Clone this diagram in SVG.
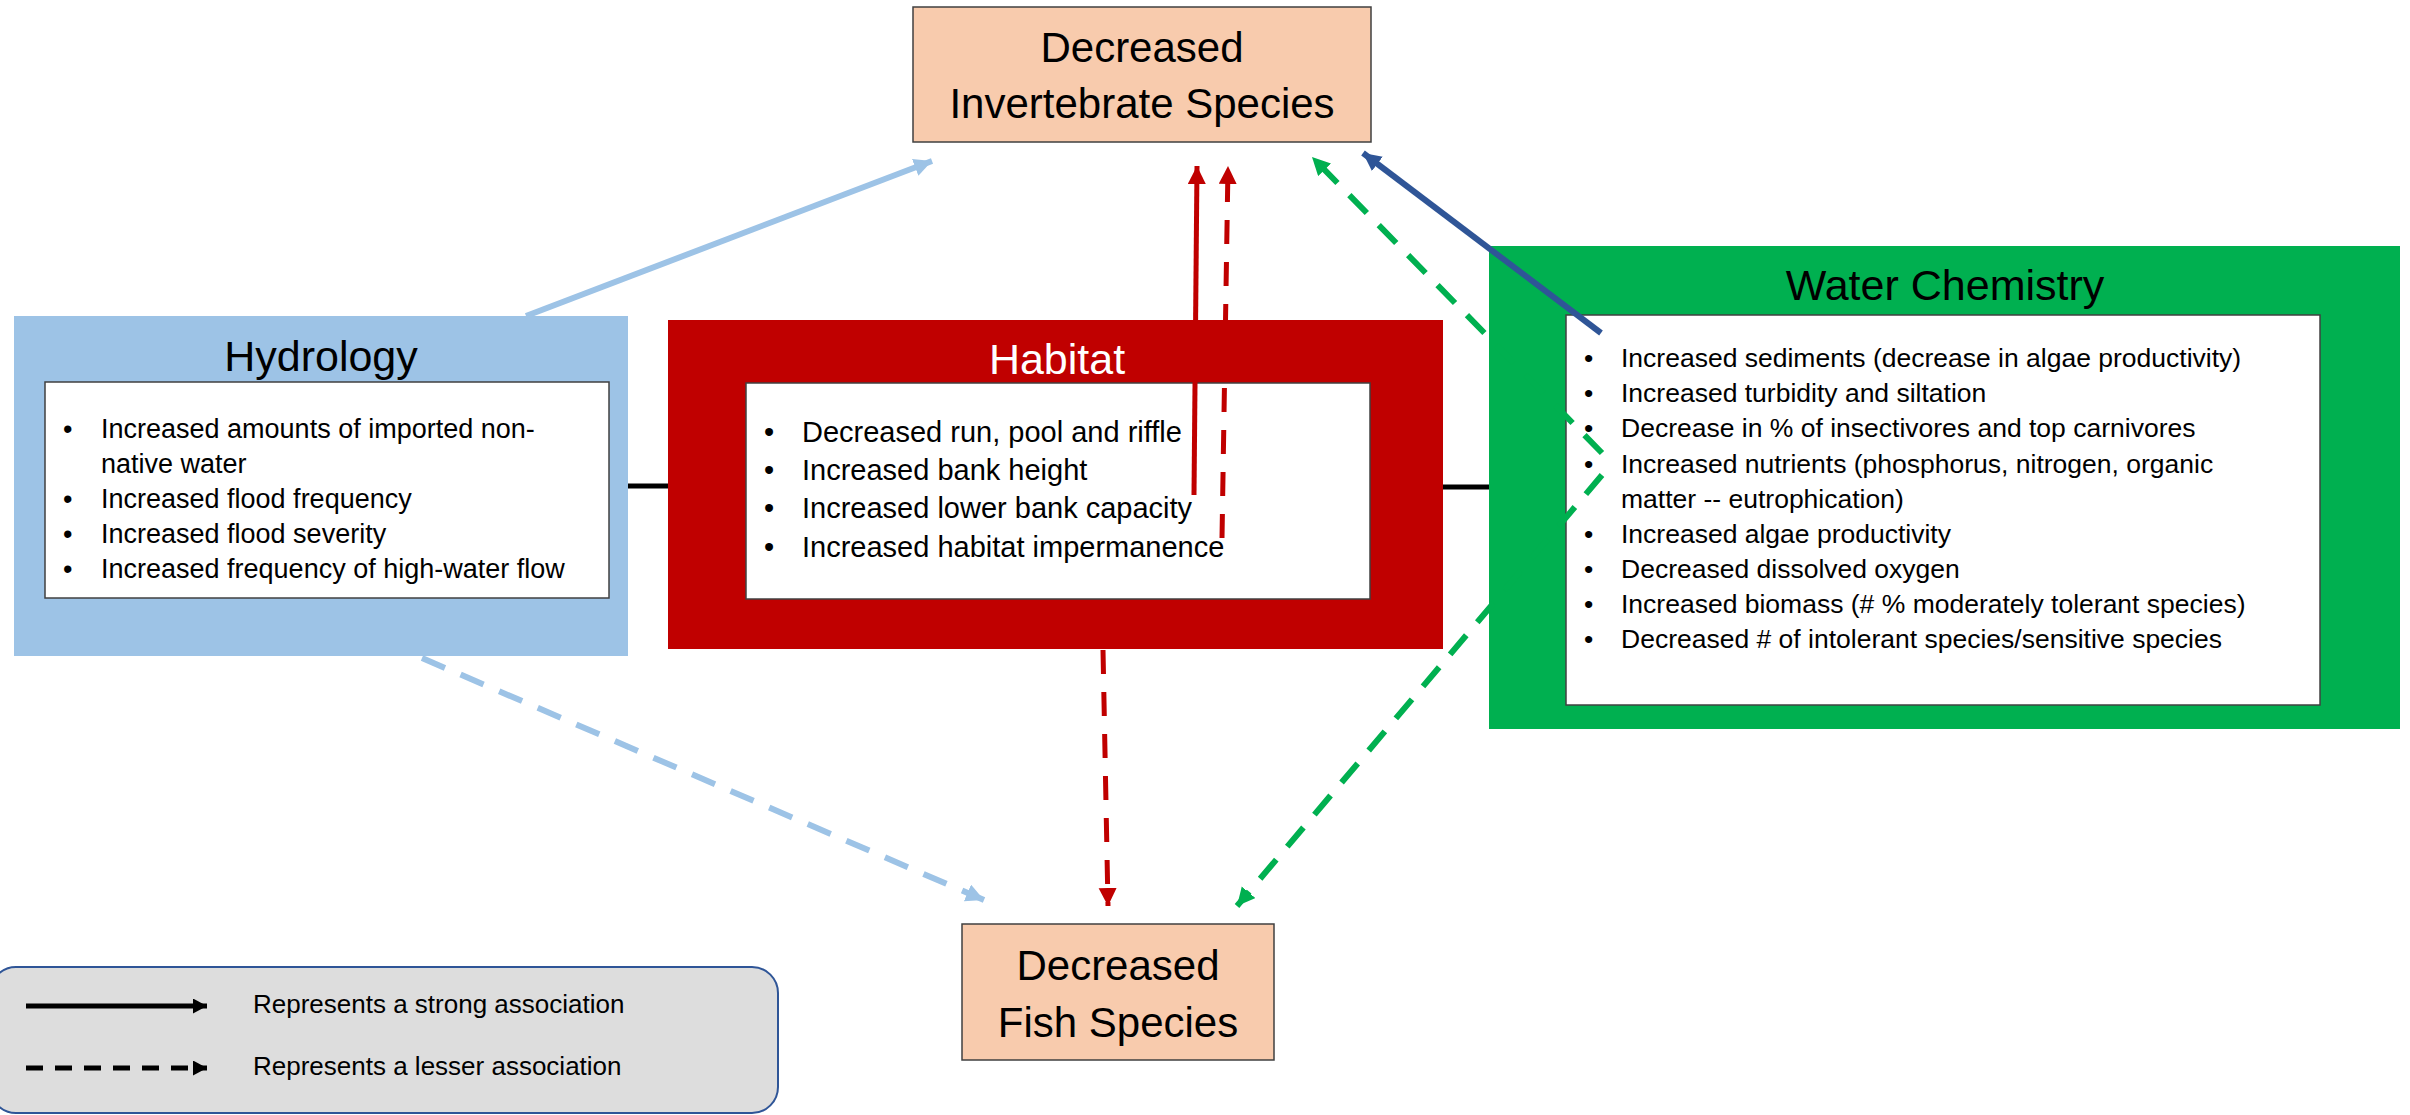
<svg xmlns="http://www.w3.org/2000/svg" width="2410" height="1115" viewBox="0 0 2410 1115">
<defs>
<style>
text{font-family:"Liberation Sans",Arial,sans-serif;fill:#000}
.outcome{fill:#F8CBAD;stroke:#404040;stroke-width:1.5}
.inner{fill:#fff;stroke:#404040;stroke-width:1.5}
.big{font-size:42px;text-anchor:middle}
.title{font-size:43px;text-anchor:middle}
.hb{font-size:27px}
.ab{font-size:29px}
.wb{font-size:26.5px}
.lg{font-size:26px}
.ln{fill:none}
</style>
<marker id="aLb" markerUnits="userSpaceOnUse" markerWidth="20" markerHeight="20" refX="18" refY="9" orient="auto"><path d="M0,0 L18,9 L0,18 z" fill="#9DC3E6"/></marker>
<marker id="aRd" markerUnits="userSpaceOnUse" markerWidth="20" markerHeight="20" refX="18" refY="9" orient="auto"><path d="M0,0 L18,9 L0,18 z" fill="#C00000"/></marker>
<marker id="aGr" markerUnits="userSpaceOnUse" markerWidth="20" markerHeight="20" refX="18" refY="9" orient="auto"><path d="M0,0 L18,9 L0,18 z" fill="#00B050"/></marker>
<marker id="aDb" markerUnits="userSpaceOnUse" markerWidth="20" markerHeight="20" refX="18" refY="9" orient="auto"><path d="M0,0 L18,9 L0,18 z" fill="#2F5597"/></marker>
<marker id="aBk" markerUnits="userSpaceOnUse" markerWidth="16" markerHeight="16" refX="14" refY="7.5" orient="auto"><path d="M0,0 L14,7.5 L0,15 z" fill="#000"/></marker>
</defs>
<rect width="2410" height="1115" fill="#fff"/>

<g id="links-black">
<line x1="620" y1="486" x2="675" y2="486" stroke="#000" stroke-width="5"/>
<line x1="1435" y1="487" x2="1495" y2="487" stroke="#000" stroke-width="5"/>
</g>

<g id="invertebrate">
<rect class="outcome" x="913" y="7" width="458" height="135"/>
<text class="big" x="1142" y="62">Decreased</text>
<text class="big" x="1142" y="118">Invertebrate Species</text>
</g>

<g id="fish">
<rect class="outcome" x="962" y="924" width="312" height="136"/>
<text class="big" x="1118" y="980">Decreased</text>
<text class="big" x="1118" y="1037">Fish Species</text>
</g>

<g id="hydrology">
<rect x="14" y="316" width="614" height="340" fill="#9DC3E6"/>
<text class="title" x="321" y="371">Hydrology</text>
<rect class="inner" x="45" y="382" width="564" height="216"/>
<g class="hb">
<text x="63" y="438">•</text><text x="101" y="438">Increased amounts of imported non-</text>
<text x="101" y="473">native water</text>
<text x="63" y="508">•</text><text x="101" y="508">Increased flood frequency</text>
<text x="63" y="543">•</text><text x="101" y="543">Increased flood severity</text>
<text x="63" y="578">•</text><text x="101" y="578">Increased frequency of high-water flow</text>
</g>
</g>

<g id="habitat">
<rect x="668" y="320" width="775" height="329" fill="#C00000"/>
<text class="title" x="1057" y="374" style="fill:#fff">Habitat</text>
<rect class="inner" x="746" y="383" width="624" height="216"/>
<g class="ab">
<text x="764" y="442">•</text><text x="802" y="442">Decreased run, pool and riffle</text>
<text x="764" y="480">•</text><text x="802" y="480">Increased bank height</text>
<text x="764" y="518">•</text><text x="802" y="518">Increased lower bank capacity</text>
<text x="764" y="557">•</text><text x="802" y="557">Increased habitat impermanence</text>
</g>
</g>

<g id="water-chemistry">
<rect x="1489" y="246" width="911" height="483" fill="#00B050"/>
<text class="title" x="1945" y="300">Water Chemistry</text>
<rect class="inner" x="1566" y="315" width="754" height="390"/>
<g class="wb">
<text x="1584" y="367">•</text><text x="1621" y="367">Increased sediments (decrease in algae productivity)</text>
<text x="1584" y="402">•</text><text x="1621" y="402">Increased turbidity and siltation</text>
<text x="1584" y="437">•</text><text x="1621" y="437">Decrease in % of insectivores and top carnivores</text>
<text x="1584" y="473">•</text><text x="1621" y="473">Increased nutrients (phosphorus, nitrogen, organic</text>
<text x="1621" y="508">matter -- eutrophication)</text>
<text x="1584" y="543">•</text><text x="1621" y="543">Increased algae productivity</text>
<text x="1584" y="578">•</text><text x="1621" y="578">Decreased dissolved oxygen</text>
<text x="1584" y="613">•</text><text x="1621" y="613">Increased biomass (# % moderately tolerant species)</text>
<text x="1584" y="648">•</text><text x="1621" y="648">Decreased # of intolerant species/sensitive species</text>
</g>
</g>

<g id="connectors" class="ln">
<line x1="526" y1="316" x2="932" y2="161" stroke="#9DC3E6" stroke-width="6" marker-end="url(#aLb)"/>
<line x1="422" y1="658" x2="984" y2="900" stroke="#9DC3E6" stroke-width="6" stroke-dasharray="25 17" marker-end="url(#aLb)"/>
<line x1="1194" y1="495" x2="1197" y2="166" stroke="#C00000" stroke-width="5" marker-end="url(#aRd)"/>
<line x1="1222" y1="538" x2="1228" y2="166" stroke="#C00000" stroke-width="5" stroke-dasharray="24 18" marker-end="url(#aRd)"/>
<line x1="1103" y1="650" x2="1108" y2="906" stroke="#C00000" stroke-width="5" stroke-dasharray="24 18" marker-end="url(#aRd)"/>
<line x1="1602" y1="453" x2="1312" y2="157" stroke="#00B050" stroke-width="6" stroke-dasharray="25 17" marker-end="url(#aGr)"/>
<line x1="1602" y1="475" x2="1237" y2="906" stroke="#00B050" stroke-width="6" stroke-dasharray="25 17" marker-end="url(#aGr)"/>
<line x1="1601" y1="333" x2="1363" y2="153" stroke="#2F5597" stroke-width="6" marker-end="url(#aDb)"/>
</g>

<g id="legend">
<rect x="-10" y="967" width="788" height="146" rx="26" ry="26" fill="#DDDDDD" stroke="#2F5597" stroke-width="2"/>
<line x1="26" y1="1006" x2="207" y2="1006" stroke="#000" stroke-width="5" marker-end="url(#aBk)"/>
<line x1="26" y1="1068" x2="207" y2="1068" stroke="#000" stroke-width="5" stroke-dasharray="17 12" marker-end="url(#aBk)"/>
<text class="lg" x="253" y="1013">Represents a strong association</text>
<text class="lg" x="253" y="1075">Represents a lesser association</text>
</g>
</svg>
